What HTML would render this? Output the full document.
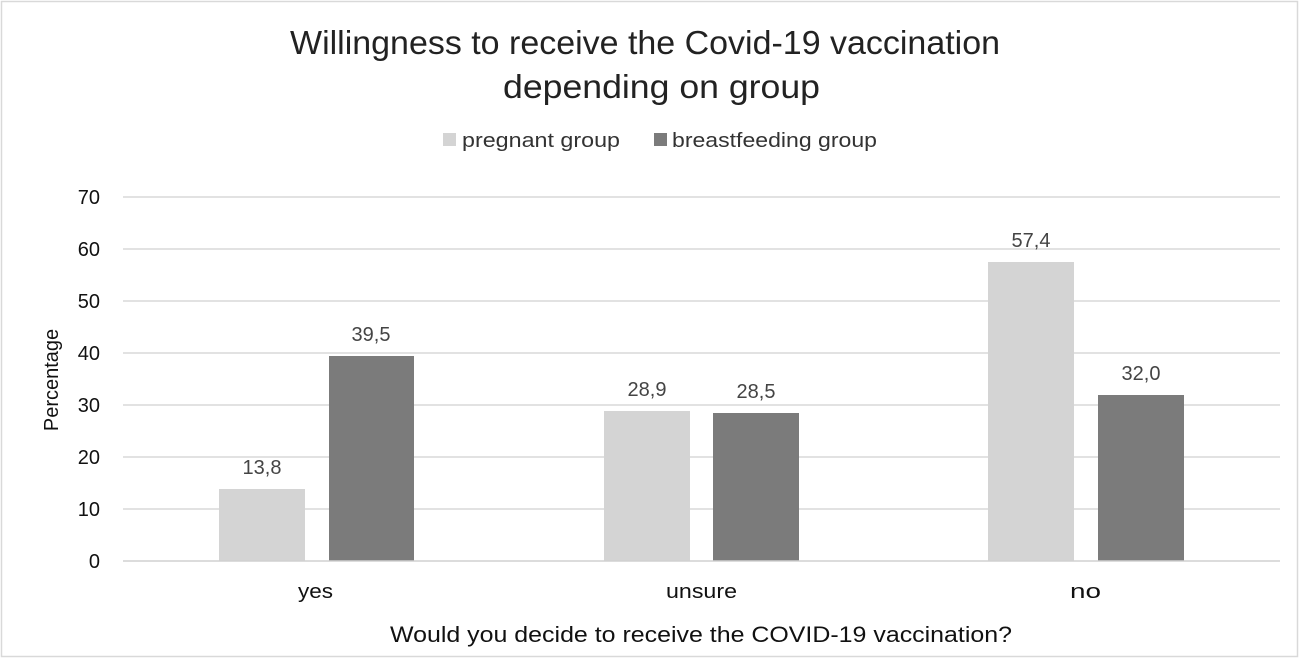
<!DOCTYPE html>
<html><head><meta charset="utf-8"><style>
html,body{margin:0;padding:0;background:#fff;}
</style></head><body>
<svg width="1300" height="659" xmlns="http://www.w3.org/2000/svg" font-family="'Liberation Sans','DejaVu Sans',sans-serif">
<rect x="0" y="0" width="1300" height="659" fill="#fff"/>
<rect x="1.5" y="1.5" width="1296" height="655" fill="none" stroke="#d9d9d9" stroke-width="1.5"/>
<text x="290" y="54" font-size="33" fill="#222" textLength="710" lengthAdjust="spacingAndGlyphs">Willingness to receive the Covid-19 vaccination</text>
<text x="503" y="98" font-size="33" fill="#222" textLength="317" lengthAdjust="spacingAndGlyphs">depending on group</text>
<rect x="443" y="133" width="13" height="13" fill="#d4d4d4"/>
<text x="462" y="147" font-size="20" fill="#333" textLength="158" lengthAdjust="spacingAndGlyphs">pregnant group</text>
<rect x="654" y="133" width="13" height="13" fill="#7b7b7b"/>
<text x="672" y="147" font-size="20" fill="#333" textLength="205" lengthAdjust="spacingAndGlyphs">breastfeeding group</text>
<g stroke="#d9d9d9" stroke-width="1.5">
<line x1="123" x2="1280" y1="197" y2="197"/>
<line x1="123" x2="1280" y1="249" y2="249"/>
<line x1="123" x2="1280" y1="301" y2="301"/>
<line x1="123" x2="1280" y1="353" y2="353"/>
<line x1="123" x2="1280" y1="405" y2="405"/>
<line x1="123" x2="1280" y1="457" y2="457"/>
<line x1="123" x2="1280" y1="509" y2="509"/>
</g>
<g font-size="20" fill="#111" text-anchor="end">
<text x="100" y="204">70</text><text x="100" y="256">60</text><text x="100" y="308">50</text>
<text x="100" y="360">40</text><text x="100" y="412">30</text><text x="100" y="464">20</text>
<text x="100" y="516">10</text><text x="100" y="568">0</text>
</g>
<text transform="translate(58,380) rotate(-90)" font-size="20" fill="#111" text-anchor="middle">Percentage</text>
<g fill="#d4d4d4">
<rect x="219" y="489" width="86" height="72"/>
<rect x="604" y="411" width="86" height="150"/>
<rect x="988" y="262" width="86" height="299"/>
</g>
<g fill="#7b7b7b">
<rect x="329" y="356" width="85" height="205"/>
<rect x="713" y="413" width="86" height="148"/>
<rect x="1098" y="395" width="86" height="166"/>
</g>
<line x1="123" x2="1280" y1="561" y2="561" stroke="#d0d0d0" stroke-width="1.5"/>
<g font-size="20" fill="#444" text-anchor="middle">
<text x="262" y="474">13,8</text><text x="371" y="341">39,5</text>
<text x="647" y="396">28,9</text><text x="756" y="398">28,5</text>
<text x="1031" y="247">57,4</text><text x="1141" y="380">32,0</text>
</g>
<g font-size="20" fill="#111">
<text x="298" y="598" textLength="35" lengthAdjust="spacingAndGlyphs">yes</text>
<text x="666" y="598" textLength="71" lengthAdjust="spacingAndGlyphs">unsure</text>
<text x="1070" y="598" textLength="31" lengthAdjust="spacingAndGlyphs">no</text>
</g>
<text x="390" y="642" font-size="22" fill="#111" textLength="622" lengthAdjust="spacingAndGlyphs">Would you decide to receive the COVID-19 vaccination?</text>
</svg>
</body></html>
